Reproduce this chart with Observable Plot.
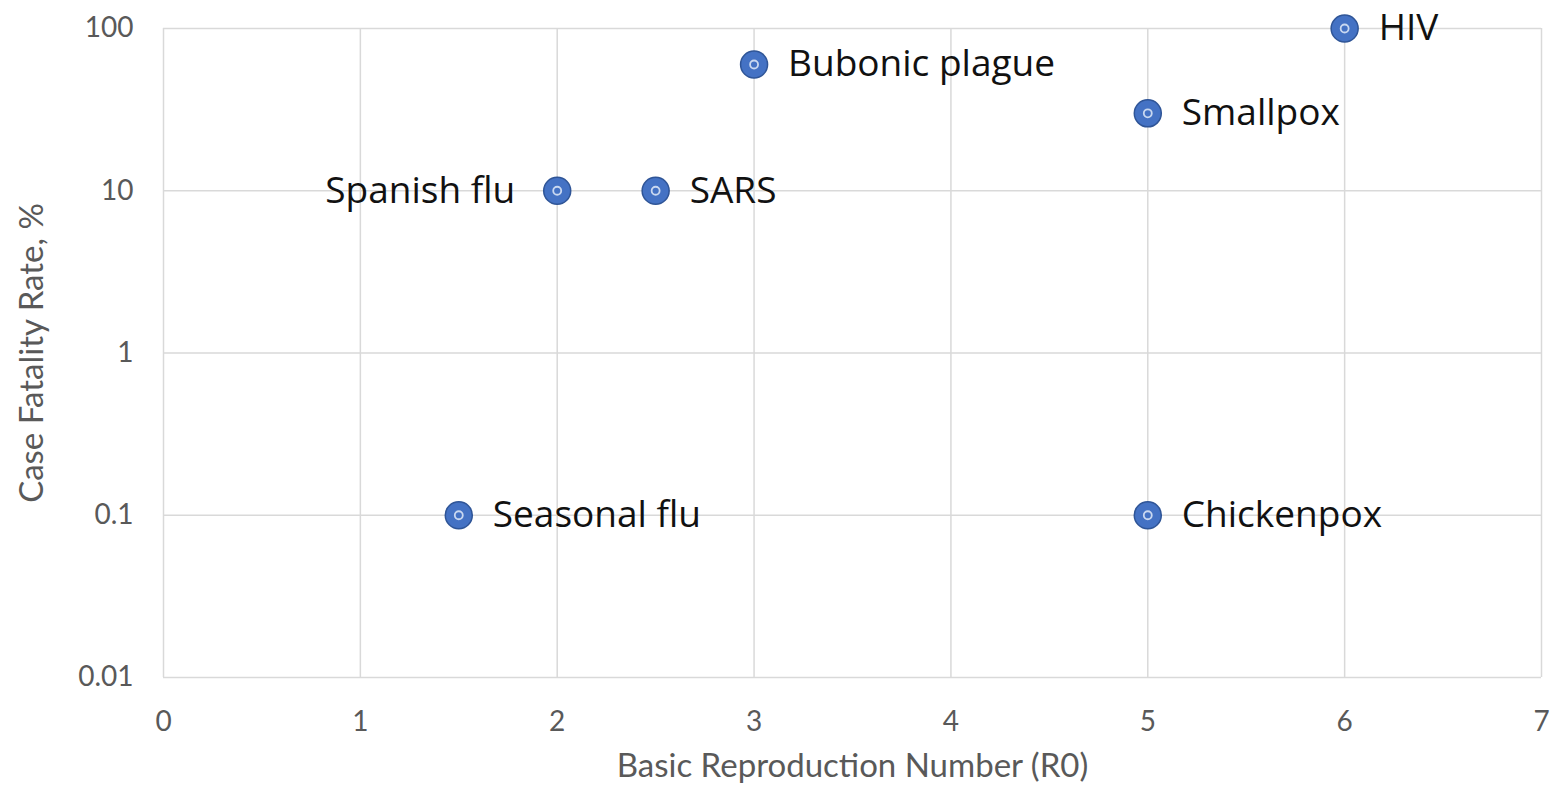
<!DOCTYPE html>
<html>
<head>
<meta charset="utf-8">
<script src="https://cdn.jsdelivr.net/npm/d3@7"></script>
<script src="https://cdn.jsdelivr.net/npm/@observablehq/plot@0.6"></script>
<style>
  html, body { margin: 0; padding: 0; background: #fff; }
  #chart svg { display: block; }
</style>
</head>
<body>
<div id="chart"></div>
<script>
const diseases = ["Seasonal flu", "Spanish flu", "SARS", "Bubonic plague", "Smallpox", "HIV", "Chickenpox"];
const r0Values = [1.5, 2, 2.5, 3, 5, 6, 5];
const cfrValues = [0.1, 10, 10, 60, 30, 100, 0.1];
const xTicks = [0, 1, 2, 3, 4, 5, 6, 7];
const yTicks = [0.01, 0.1, 1, 10, 100];
const yTickLabels = ["0.01", "0.1", "1", "10", "100"];
const leftLabeled = ["Spanish flu"];

const data = diseases.map((d, i) => ({name: d, r0: r0Values[i], cfr: cfrValues[i]}));
const rightData = data.filter(d => !leftLabeled.includes(d.name));
const leftData = data.filter(d => leftLabeled.includes(d.name));

const grid = "#d9d9d9";
const tickColor = "#595959";
const font = "Lato, 'Open Sans', sans-serif";
const labelFont = "'Open Sans', Lato, sans-serif";

const chart = Plot.plot({
  width: 1554,
  height: 789,
  marginLeft: 163,
  marginRight: 13,
  marginTop: 28,
  marginBottom: 112,
  style: {fontFamily: font, background: "#fff"},
  x: {domain: [0, 7], label: null},
  y: {type: "log", domain: [0.01, 100], label: null},
  marks: [
    Plot.ruleX(xTicks, {stroke: grid, strokeWidth: 1.5}),
    Plot.ruleY(yTicks, {stroke: grid, strokeWidth: 1.5}),
    Plot.axisX(xTicks, {tickSize: 0, tickPadding: 34, fontSize: 28, fill: tickColor, label: null, tickFormat: d => String(d)}),
    Plot.axisY(yTicks, {tickSize: 0, tickPadding: 30, fontSize: 28, fill: tickColor, label: null, tickFormat: d => yTickLabels[yTicks.indexOf(d)]}),
    Plot.dot(data, {x: "r0", y: "cfr", r: 13.5, fill: "#4472C4", stroke: "#2F5597", strokeWidth: 1.5}),
    Plot.dot(data, {x: "r0", y: "cfr", r: 4, fill: "#4472C4", stroke: "#c9d8f0", strokeWidth: 1.8}),
    Plot.text(rightData, {x: "r0", y: "cfr", text: "name", textAnchor: "start", dx: 34, dy: 0, fontSize: 37, fontFamily: labelFont, fill: "#111"}),
    Plot.text(leftData, {x: "r0", y: "cfr", text: "name", textAnchor: "end", dx: -42, dy: 0, fontSize: 37, fontFamily: labelFont, fill: "#111"}),
    Plot.text(["Basic Reproduction Number (R0)"], {frameAnchor: "bottom", dy: 99, fontSize: 33, fill: tickColor}),
    Plot.text(["Case Fatality Rate, %"], {frameAnchor: "left", textAnchor: "middle", dx: -131, rotate: -90, fontSize: 33, fill: tickColor})
  ]
});
document.getElementById("chart").appendChild(chart);
</script>
</body>
</html>
